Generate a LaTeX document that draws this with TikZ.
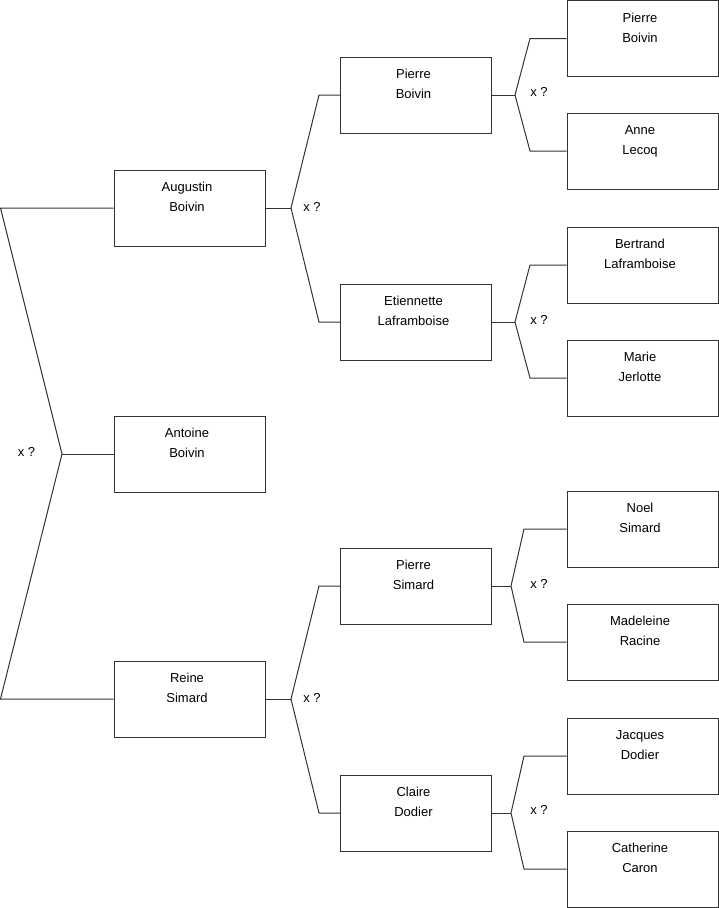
\documentclass[tikz,border=0pt]{standalone}
\usepackage{fontspec}
\setmainfont{Liberation Sans}
\usepackage{tikz}
\newcommand{\persfont}{\fontsize{13}{20}\selectfont}
\newcommand{\nm}[2]{\begin{tabular}[t]{@{}c@{\hspace{5pt}}}#1\\#2\end{tabular}}
\tikzset{
  pers/.style = {draw=black!80, rectangle, line width=1pt, inner sep=0pt,
                 minimum width=151pt, minimum height=76pt,
                 text height=10pt, text depth=42.6pt, font=\persfont},
  qlbl/.style = {font=\persfont, inner sep=0pt},
  lnk/.style  = {black!80, line width=1pt},
}
\begin{document}
\begin{tikzpicture}[x=1pt, y=-1pt]
  \useasboundingbox (0,0) rectangle (719,908);
  % generation 1
  \node[pers] (antoine)  at (189.5,454) {\nm{Antoine}{Boivin}};
  % generation 2
  \node[pers] (augustin) at (189.5,208) {\nm{Augustin}{Boivin}};
  \node[pers] (reine)    at (189.5,699) {\nm{Reine}{Simard}};
  % generation 3
  \node[pers] (pboivin)  at (416,95)  {\nm{Pierre}{Boivin}};
  \node[pers] (etienne)  at (416,322) {\nm{Etiennette}{Laframboise}};
  \node[pers] (psimard)  at (416,586) {\nm{Pierre}{Simard}};
  \node[pers] (claire)   at (416,813) {\nm{Claire}{Dodier}};
  % generation 4
  \node[pers] (gpierre)  at (642.5,38.5) {\nm{Pierre}{Boivin}};
  \node[pers] (anne)     at (642.5,151)  {\nm{Anne}{Lecoq}};
  \node[pers] (bertrand) at (642.5,265)  {\nm{Bertrand}{Laframboise}};
  \node[pers] (marie)    at (642.5,378)  {\nm{Marie}{Jerlotte}};
  \node[pers] (noel)     at (642.5,529)  {\nm{Noel}{Simard}};
  \node[pers] (madeleine) at (642.5,642) {\nm{Madeleine}{Racine}};
  \node[pers] (jacques)  at (642.5,756)  {\nm{Jacques}{Dodier}};
  \node[pers] (catherine) at (642.5,869) {\nm{Catherine}{Caron}};

  % couple brackets
  \coordinate (j0) at (62,454);
  \coordinate (j0a) at (0.5,208);  \coordinate (j0b) at (0.5,699);
  \coordinate (j1) at (291,208);
  \coordinate (j1a) at (319,95);   \coordinate (j1b) at (319,322);
  \coordinate (j2) at (291,699);
  \coordinate (j2a) at (319,586);  \coordinate (j2b) at (319,813);
  \coordinate (j3) at (515,95);
  \coordinate (j3a) at (530,38.5); \coordinate (j3b) at (530,151);
  \coordinate (j4) at (515,322);
  \coordinate (j4a) at (530,265);  \coordinate (j4b) at (530,378);
  \coordinate (j5) at (511,586);
  \coordinate (j5a) at (524,529);  \coordinate (j5b) at (524,642);
  \coordinate (j6) at (511,813);
  \coordinate (j6a) at (524,756);  \coordinate (j6b) at (524,869);

  \draw[lnk] (augustin.west) -- (j0a) -- (j0) -- (j0b) -- (reine.west);
  \draw[lnk] (j0) -- (antoine.west);
  \draw[lnk] (pboivin.west) -- (j1a) -- (j1) -- (j1b) -- (etienne.west);
  \draw[lnk] (j1) -- (augustin.east);
  \draw[lnk] (psimard.west) -- (j2a) -- (j2) -- (j2b) -- (claire.west);
  \draw[lnk] (j2) -- (reine.east);
  \draw[lnk] (gpierre.west) -- (j3a) -- (j3) -- (j3b) -- (anne.west);
  \draw[lnk] (j3) -- (pboivin.east);
  \draw[lnk] (bertrand.west) -- (j4a) -- (j4) -- (j4b) -- (marie.west);
  \draw[lnk] (j4) -- (etienne.east);
  \draw[lnk] (noel.west) -- (j5a) -- (j5) -- (j5b) -- (madeleine.west);
  \draw[lnk] (j5) -- (psimard.east);
  \draw[lnk] (jacques.west) -- (j6a) -- (j6) -- (j6b) -- (catherine.west);
  \draw[lnk] (j6) -- (claire.east);

  \node[qlbl] (q0) at (26.5,452) {x ?};
  \node[qlbl] (q1) at (312,207) {x ?};
  \node[qlbl] (q2) at (312,698) {x ?};
  \node[qlbl] (q3) at (539,92)  {x ?};
  \node[qlbl] (q4) at (539,320) {x ?};
  \node[qlbl] (q5) at (539,584) {x ?};
  \node[qlbl] (q6) at (539,810) {x ?};
\end{tikzpicture}
\end{document}
